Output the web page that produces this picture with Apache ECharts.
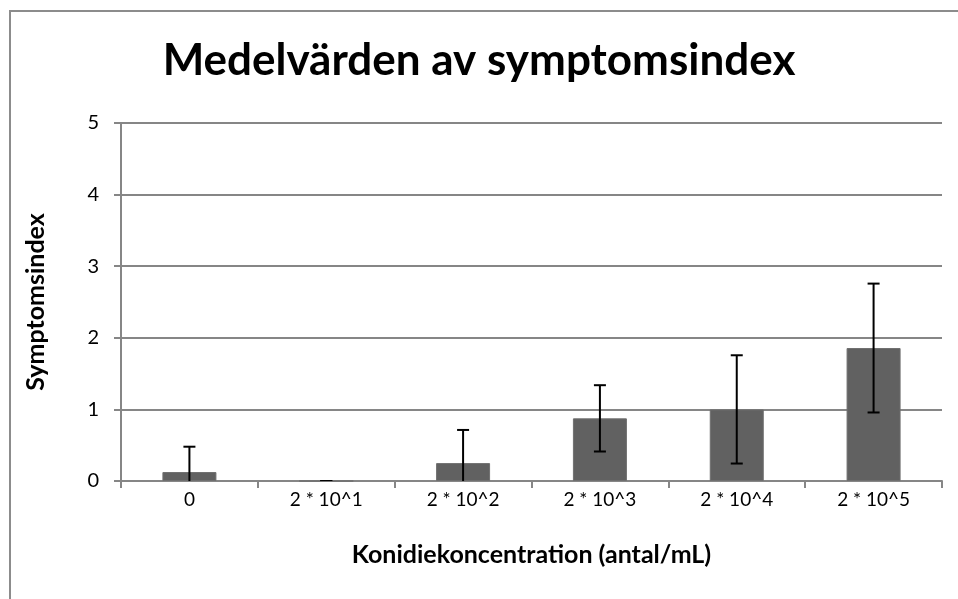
<!DOCTYPE html>
<html>
<head>
<meta charset="utf-8">
<script src="https://cdn.jsdelivr.net/npm/echarts@6/dist/echarts.min.js"></script>
<style>
html,body{margin:0;padding:0;background:#fff;}
#chart{width:958px;height:599px;}
</style>
</head>
<body>
<div id="chart"></div>
<script>
const categories = ['0', '2 * 10^1', '2 * 10^2', '2 * 10^3', '2 * 10^4', '2 * 10^5'];
const meanValues = [0.125, 0, 0.25, 0.875, 1.0, 1.857];
const errorValues = [0.354, 0, 0.463, 0.463, 0.756, 0.9];
const yTicks = [0, 1, 2, 3, 4, 5];

const FONT = 'Lato';
const chart = echarts.init(document.getElementById('chart'));

const errorData = meanValues.map((m, i) => [i, m - errorValues[i], m + errorValues[i]]);

chart.setOption({
  animation: false,
  backgroundColor: '#ffffff',
  title: {
    text: 'Medelvärden av symptomsindex',
    left: 'center',
    top: 34,
    textStyle: { fontFamily: FONT, fontWeight: 'bold', fontSize: 44, color: '#000' }
  },
  graphic: [{
    type: 'rect',
    shape: { x: 10, y: 11, width: 1000, height: 700 },
    style: { fill: null, stroke: '#8c8c8c', lineWidth: 2 },
    silent: true
  }],
  grid: { left: 121, right: 16, top: 123, bottom: 118 },
  xAxis: {
    type: 'category',
    data: categories,
    name: 'Konidiekoncentration (antal/mL)',
    nameLocation: 'middle',
    nameGap: 61,
    nameTextStyle: { fontFamily: FONT, fontWeight: 'bold', fontSize: 25, color: '#000' },
    axisLine: { lineStyle: { color: '#868686', width: 2 } },
    axisTick: { show: true, alignWithLabel: false, length: 7, lineStyle: { color: '#868686', width: 2 } },
    axisLabel: { fontFamily: FONT, fontSize: 19, color: '#000', margin: 9, interval: 0 },
    splitLine: { show: false }
  },
  yAxis: {
    type: 'value',
    min: 0,
    max: 5,
    interval: 1,
    name: 'Symptomsindex',
    nameLocation: 'middle',
    nameGap: 73,
    nameTextStyle: { fontFamily: FONT, fontWeight: 'bold', fontSize: 25, color: '#000' },
    axisLine: { show: true, lineStyle: { color: '#868686', width: 2 } },
    axisTick: { show: true, length: 7, lineStyle: { color: '#868686', width: 2 } },
    axisLabel: {
      fontFamily: FONT, fontSize: 20, color: '#000', margin: 22,
      formatter: v => (yTicks.indexOf(v) >= 0 ? String(v) : '')
    },
    splitLine: { show: true, lineStyle: { color: '#868686', width: 2 } }
  },
  series: [
    {
      type: 'bar',
      data: meanValues,
      barWidth: 54,
      itemStyle: { color: '#616161', borderColor: '#6f6f6f', borderWidth: 1 },
      z: 2
    },
    {
      type: 'custom',
      data: errorData,
      clip: true,
      z: 3,
      renderItem: function (params, api) {
        const x = api.value(0);
        const lo = api.coord([x, api.value(1)]);
        const hi = api.coord([x, api.value(2)]);
        const half = 6;
        const style = { stroke: '#000', lineWidth: 2, fill: null };
        return {
          type: 'group',
          children: [
            { type: 'line', shape: { x1: hi[0], y1: hi[1], x2: lo[0], y2: lo[1] }, style: style },
            { type: 'line', shape: { x1: hi[0] - half, y1: hi[1], x2: hi[0] + half, y2: hi[1] }, style: style },
            { type: 'line', shape: { x1: lo[0] - half, y1: lo[1], x2: lo[0] + half, y2: lo[1] }, style: style }
          ]
        };
      }
    }
  ]
});
</script>
</body>
</html>
